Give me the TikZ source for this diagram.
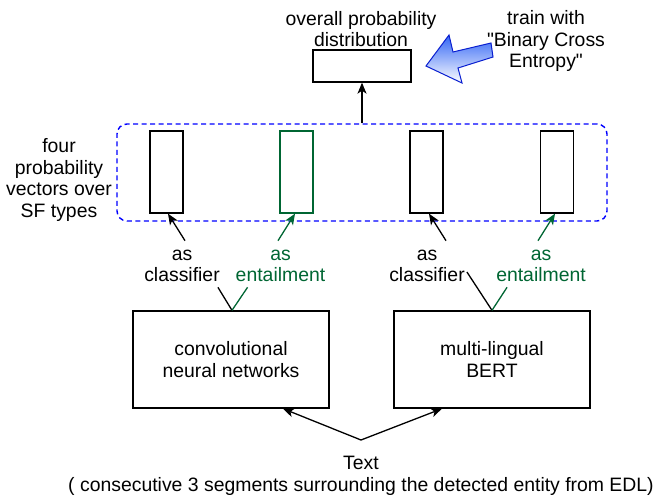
\documentclass[tikz,border=0pt]{standalone}
\usepackage{fontspec}
\newfontfamily\diafont{Liberation Sans}
\usetikzlibrary{arrows.meta,calc}
\definecolor{grn}{HTML}{006633}
\definecolor{dblue}{HTML}{0000FF}
\definecolor{arrfill}{HTML}{3366F5}
\definecolor{arrline}{HTML}{0A1FD0}
\begin{document}
\begin{tikzpicture}[x=1pt,y=-1pt,
  font=\diafont\fontsize{19.4}{21.6}\selectfont,
  lw/.style={line width=1.3pt},
  vecbox/.style={draw,lw,minimum width=33pt,minimum height=82pt,inner sep=0pt},
  modelbox/.style={draw,lw,minimum width=196pt,minimum height=97pt,align=center,inner sep=0pt},
  lbl/.style={align=center,inner sep=0pt},
  arr/.style={lw,-{Stealth[length=11pt,width=9pt,inset=3pt]}},
  ]
\fill[white] (0,0) rectangle (654,499);
\useasboundingbox (0,0) rectangle (654,499);

% top
\node[draw,lw,minimum width=98pt,minimum height=32pt,inner sep=0pt] (top) at (362,66) {};
\node[lbl] (toplbl) at (361,29) {overall probability\\distribution};
\node[lbl] (train) at (546,41) {train with\\"Binary Cross\\Entropy"};
\path[draw=arrline,line width=1pt,top color=arrfill,bottom color=white]
  (426,66) -- (449,35) -- (453,52) -- (491,43) -- (493,57) -- (458,68) -- (462,83) -- cycle;

% group of vectors
\node[draw=dblue,line width=1.4pt,dash pattern=on 5pt off 3.5pt,rounded corners=10pt,
      minimum width=490pt,minimum height=97pt,inner sep=0pt] (group) at (362,172.5) {};
\node[lbl] (four) at (59,180) {four\\probability\\vectors over\\SF types};

\node[vecbox] (v1) at (166.5,172) {};
\node[vecbox,draw=grn] (v2) at (296.5,172) {};
\node[vecbox] (v3) at (426.5,172) {};
\node[vecbox] (v4) at (557,172) {};

\node[lbl] (l1) at (182,266) {as\\classifier};
\node[lbl,text=grn] (l2) at (280.5,266) {as\\entailment};
\node[lbl] (l3) at (427,266) {as\\classifier};
\node[lbl,text=grn] (l4) at (541,266) {as\\entailment};

\node[modelbox] (cnn) at (231,359.5) {convolutional\\neural networks};
\node[modelbox] (bert) at (492,359.5) {multi-lingual\\BERT};

\node[lbl] (txt) at (361,476) {Text\\( consecutive 3 segments surrounding the detected entity from EDL)};

% connectors
\draw[arr] (group.north) -- (top.south);
\draw[arr] ($(l1.north)+(3,-9)$) -- ($(v1.south)+(1.5,0)$);
\draw[arr,grn] ($(l2.north)+(-2.5,-9)$) -- ($(v2.south)+(-1.5,0)$);
\draw[arr] ($(l3.north)+(19,-9)$) -- ($(v3.south)+(2.5,0)$);
\draw[arr,grn] ($(l4.north)+(-3,-9)$) -- ($(v4.south)+(-2,0)$);

\draw[lw] ($(l1.south east)+(-2,5)$) -- ($(cnn.north)+(1,0)$);
\draw[lw,grn] ($(l2.south west)+(12,5)$) -- ($(cnn.north)+(1,0)$);
\draw[lw] ($(l3.east)+(2,6)$) -- (bert.north);
\draw[lw,grn] ($(l4.south west)+(11,5)$) -- (bert.north);

\coordinate (apex) at (361,440);
\draw[arr] (apex) -- ($(cnn.south)+(52,0)$);
\draw[arr] (apex) -- ($(bert.south)+(-50,0)$);
\end{tikzpicture}
\end{document}
